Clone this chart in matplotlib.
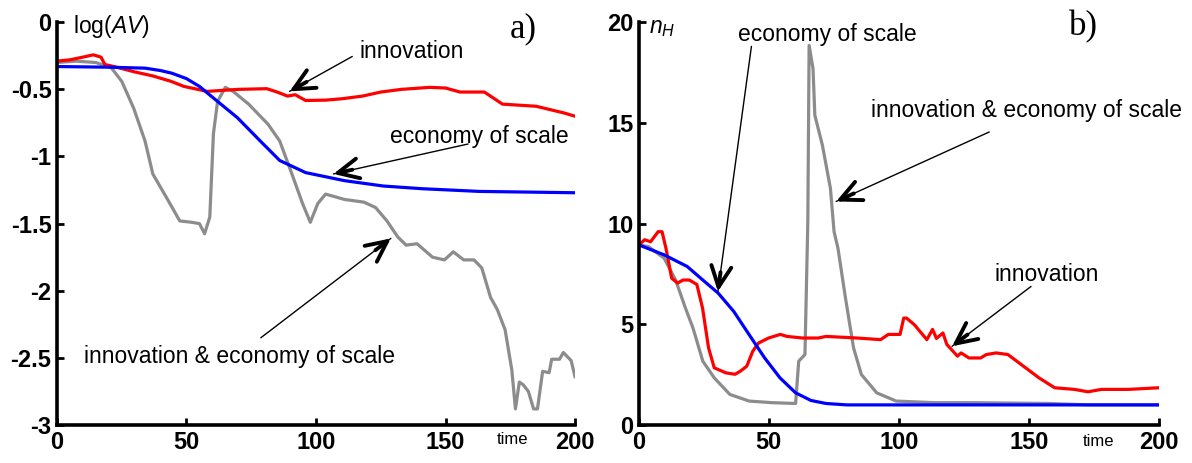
import numpy as np
import matplotlib.pyplot as plt

plt.rcParams['font.family'] = ['Liberation Sans', 'DejaVu Sans']
plt.rcParams['mathtext.fontset'] = 'custom'
plt.rcParams['mathtext.it'] = 'Liberation Sans:italic'
plt.rcParams['mathtext.rm'] = 'Liberation Sans'

# a) log of average value over time
t_a_inn = [0, 5, 10, 14, 17, 18.5, 22, 30, 37, 44, 49, 58, 62, 70, 81, 85, 89, 92, 96, 104,
           110, 118, 125, 133, 144, 150, 155.6, 165, 172, 185, 195.6, 200]
v_a_inn = [-0.29, -0.28, -0.26, -0.243, -0.26, -0.315, -0.33, -0.37, -0.40, -0.44, -0.478,
           -0.515, -0.51, -0.50, -0.495, -0.52, -0.55, -0.54, -0.583, -0.58, -0.57, -0.55,
           -0.52, -0.50, -0.485, -0.49, -0.52, -0.52, -0.61, -0.626, -0.675, -0.70]

t_a_eos = [0, 20, 34, 40, 44.4, 50, 55, 62, 69.6, 78.5, 86, 96, 111, 126, 141, 163, 200]
v_a_eos = [-0.33, -0.335, -0.342, -0.36, -0.38, -0.42, -0.478, -0.59, -0.71, -0.885, -1.03,
           -1.12, -1.18, -1.22, -1.24, -1.26, -1.27]

t_a_both = [0, 7.4, 15, 21, 25, 29.6, 34, 37, 43, 47.4, 52, 55, 57, 59, 60.4, 62, 65, 68, 74,
            81.5, 86, 90.7, 94.8, 97.8, 100.7, 103.7, 111, 118.5, 123, 127.4, 131.6, 134.8,
            139, 145, 149.6, 153, 157, 161, 164, 167.4, 170, 173, 175.6, 177, 178.5, 180, 182,
            184, 185.5, 187.5, 190, 191, 194, 195.5, 198.5, 200]
v_a_both = [-0.30, -0.29, -0.30, -0.34, -0.44, -0.64, -0.885, -1.13, -1.33, -1.48, -1.49,
            -1.50, -1.575, -1.45, -0.83, -0.59, -0.485, -0.515, -0.61, -0.76, -0.885, -1.13,
            -1.35, -1.49, -1.35, -1.28, -1.32, -1.34, -1.38, -1.48, -1.6, -1.66, -1.65, -1.75,
            -1.77, -1.71, -1.77, -1.77, -1.83, -2.05, -2.14, -2.29, -2.59, -2.88, -2.68, -2.70,
            -2.75, -2.88, -2.88, -2.60, -2.61, -2.51, -2.51, -2.46, -2.52, -2.64]

# b) number of hubs n_H over time
t_b_inn = [0, 2.2, 4.5, 7.4, 8.9, 10.4, 12.6, 14.9, 17, 19.4, 22.3, 24.5, 26.8, 29, 33.5, 37,
           39, 41.5, 43.8, 46, 49.9, 54.4, 57, 63, 69, 72, 84, 93, 96, 100.5, 101.9, 103, 106,
           110.8, 113, 114.5, 117, 118.5, 122.6, 124, 127, 131.5, 133.7, 137.5, 142, 148, 154,
           160, 167.6, 172.8, 178, 188.5, 200]
v_b_inn = [8.94, 9.2, 9.1, 9.6, 9.6, 8.78, 7.29, 7.05, 7.2, 7.2, 6.98, 5.8, 3.83, 2.84, 2.59,
           2.52, 2.67, 2.92, 3.66, 4.07, 4.32, 4.5, 4.4, 4.32, 4.32, 4.4, 4.32, 4.24, 4.5, 4.5,
           5.31, 5.31, 4.98, 4.24, 4.75, 4.3, 4.57, 4.0, 3.42, 3.58, 3.33, 3.33, 3.5, 3.58, 3.5,
           2.92, 2.34, 1.85, 1.77, 1.65, 1.77, 1.77, 1.85]

t_b_eos = [0, 9.7, 18.6, 24.5, 30.5, 36.5, 42.4, 48.4, 54.3, 60.3, 66.2, 72, 80, 200]
v_b_eos = [8.94, 8.45, 7.87, 7.21, 6.55, 5.64, 4.49, 3.33, 2.34, 1.6, 1.22, 1.07, 1.0, 1.0]

t_b_both = [0, 3.7, 9.7, 14.1, 17.9, 20.8, 24.6, 29, 35, 42.4, 51.3, 60.3, 61.5, 63.9, 65,
            65.5, 67, 67.7, 70.6, 73.7, 75.1, 76.6, 79.5, 82.6, 85.6, 91.5, 99, 113.8, 128.6,
            158, 173, 200]
v_b_both = [8.94, 8.86, 8.28, 7.21, 5.81, 4.82, 3.17, 2.34, 1.52, 1.19, 1.11, 1.07, 3.17, 3.5,
            10.1, 18.85, 17.7, 15.38, 13.9, 11.75, 9.6, 8.78, 6.3, 3.83, 2.51, 1.6, 1.19, 1.11,
            1.11, 1.07, 1.0, 1.0]

x_ticks = [0, 50, 100, 150, 200]
y_ticks_a = [0, -0.5, -1, -1.5, -2, -2.5, -3]
y_tick_labels_a = ['0', '-0.5', '-1', '-1.5', '-2', '-2.5', '-3']
y_ticks_b = [0, 5, 10, 15, 20]

GRAY = '#8c8c8c'
LW = 2.3
FS = 16.5


def style_axes(ax):
    for side in ('top', 'right'):
        ax.spines[side].set_visible(False)
    for side in ('left', 'bottom'):
        ax.spines[side].set_linewidth(2.6)
    ax.tick_params(direction='in', length=5, width=2, labelsize=17, pad=4)
    for lab in ax.get_xticklabels() + ax.get_yticklabels():
        lab.set_fontweight('bold')
    ax.set_xlim(0, 200)
    ax.set_xticks(x_ticks)


def arrow(ax, text_end, head):
    # thin shaft with a heavy open head at the end
    ax.annotate('', xy=head, xytext=text_end,
                arrowprops=dict(arrowstyle='-', lw=1.0, color='black', shrinkA=0, shrinkB=0))
    p0 = ax.transData.transform(text_end)
    p1 = ax.transData.transform(head)
    d = (p1 - p0) / np.hypot(*(p1 - p0))
    back = -d * 14
    ax.annotate('', xy=head, xytext=(back[0], back[1]), textcoords='offset points',
                arrowprops=dict(arrowstyle='->,head_length=0.75,head_width=0.36',
                                mutation_scale=20, lw=2.8, color='black',
                                shrinkA=0, shrinkB=0))


fig = plt.figure(figsize=(11.92, 4.63), dpi=100)
ax1 = fig.add_axes([0.0478, 0.082, 0.4346, 0.870])
ax2 = fig.add_axes([0.536, 0.082, 0.436, 0.870])

ax1.plot(t_a_both, v_a_both, color=GRAY, lw=LW)
ax1.plot(t_a_inn, v_a_inn, color='red', lw=LW)
ax1.plot(t_a_eos, v_a_eos, color='blue', lw=LW)
ax1.set_ylim(-3, 0)
ax1.set_yticks(y_ticks_a)
ax1.set_yticklabels(y_tick_labels_a)
style_axes(ax1)

ax1.text(6, -0.03, 'log($AV$)', fontsize=FS, va='center', ha='left')
ax1.text(180, -0.05, 'a)', fontsize=25, family='Liberation Serif', va='center', ha='center')
ax1.text(176, -3.11, 'time', fontsize=12, va='center', ha='center')
ax1.text(137, -0.22, 'innovation', fontsize=FS, ha='center', va='center')
ax1.text(163, -0.85, 'economy of scale', fontsize=FS, ha='center', va='center')
ax1.text(70.5, -2.49, 'innovation & economy of scale', fontsize=FS, ha='center', va='center')
arrow(ax1, (114, -0.255), (89.8, -0.515))
arrow(ax1, (158.7, -0.907), (106.7, -1.13))
arrow(ax1, (78.7, -2.35), (128.9, -1.61))

ax2.plot(t_b_both, v_b_both, color=GRAY, lw=LW)
ax2.plot(t_b_inn, v_b_inn, color='red', lw=LW)
ax2.plot(t_b_eos, v_b_eos, color='blue', lw=LW)
ax2.set_ylim(0, 20)
ax2.set_yticks(y_ticks_b)
style_axes(ax2)

ax2.text(4, 19.75, '$n_H$', fontsize=FS, va='center', ha='left')
ax2.text(171, 19.8, 'b)', fontsize=25, family='Liberation Serif', va='center', ha='center')
ax2.text(177, -0.8, 'time', fontsize=12, va='center', ha='center')
ax2.text(72.4, 19.4, 'economy of scale', fontsize=FS, ha='center', va='center')
ax2.text(149, 15.6, 'innovation & economy of scale', fontsize=FS, ha='center', va='center')
ax2.text(157, 7.46, 'innovation', fontsize=FS, ha='center', va='center')
arrow(ax2, (43.3, 18.8), (30.4, 6.63))
arrow(ax2, (134.8, 14.55), (75.9, 11.1))
arrow(ax2, (150.9, 6.88), (120.5, 3.91))

fig.savefig('out.png', dpi=100)
